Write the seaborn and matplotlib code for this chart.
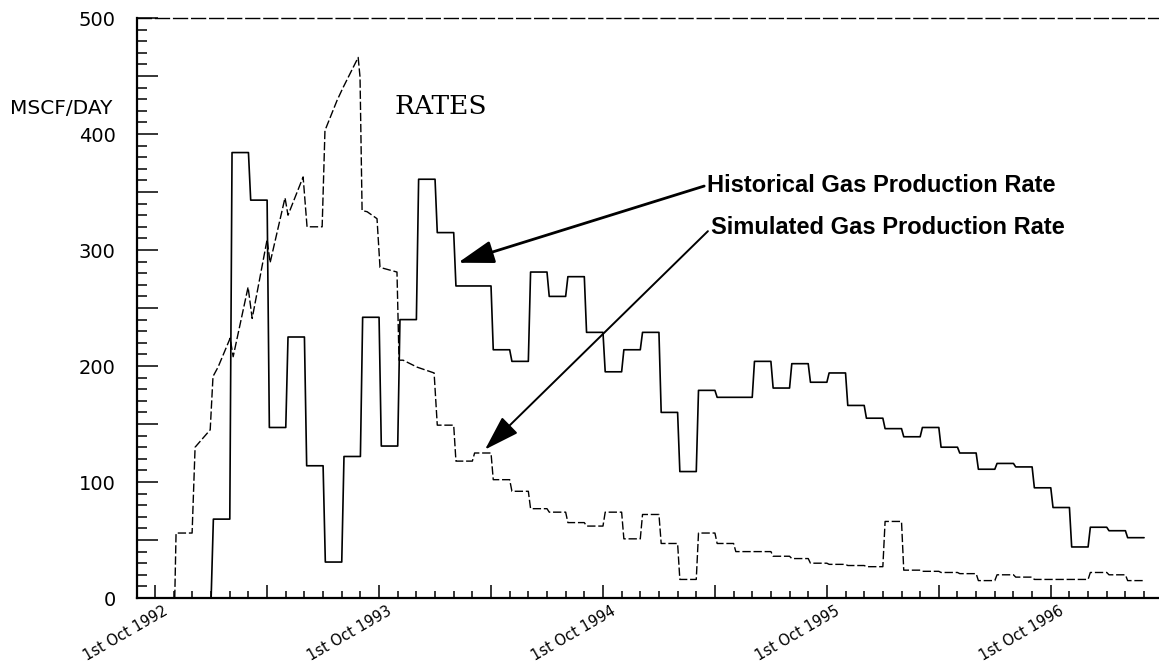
import numpy as np
import pandas as pd
import matplotlib
matplotlib.use("Agg")
import matplotlib.pyplot as plt
import matplotlib.transforms as mtransforms
from matplotlib.ticker import MultipleLocator, FuncFormatter
import seaborn as sns

## datos (meses desde 1 Oct 1992, MSCF/DAY)

hist_start = 3
hist_rate = [68, 384, 343, 147, 225, 114, 31, 122, 242, 131,
             240, 361, 315, 269, 269, 214, 204, 281, 260, 277,
             229, 195, 214, 229, 160, 109, 179, 173, 173, 204,
             181, 202, 186, 194, 166, 155, 146, 139, 147, 130,
             125, 111, 116, 113, 95, 78, 44, 61, 58, 52]

sim_early_month = [1.05, 1.12, 1.98, 2.14, 2.95, 3.1, 3.37, 4.02, 4.18, 4.98,
                   5.2, 6.0, 6.16, 6.96, 7.12, 7.93, 8.14, 8.95, 9.1, 9.75,
                   10.07, 10.88, 10.98, 11.09, 11.36, 11.89, 12.05, 12.96, 13.07, 13.29,
                   14.04, 14.95]
sim_early_rate = [0, 56, 56, 130, 145, 191, 199, 224, 208, 268,
                  241, 309, 289, 345, 330, 363, 320, 320, 403, 429,
                  440, 466, 449, 334, 333, 327, 285, 281, 205, 205,
                  199, 194]

sim_start = 15
sim_rate = [149, 118, 125, 102, 92, 77, 74, 65, 62, 74,
            51, 72, 47, 16, 56, 47, 40, 40, 36, 34,
            30, 29, 28, 27, 66, 24, 23, 22, 21, 15,
            20, 18, 16, 16, 16, 22, 20, 15]

label_months = [0, 12, 24, 36, 48]
label_text = ["1st Oct 1992", "1st Oct 1993", "1st Oct 1994", "1st Oct 1995", "1st Oct 1996"]
y_labels = [0, 100, 200, 300, 400, 500]


def escalones(first_month, values, ramp=0.12):
    t, v = [], []
    for i, val in enumerate(values):
        m = first_month + i
        t += [m + ramp, m + 1]
        v += [val, val]
    return t, v


t_h, v_h = escalones(hist_start, hist_rate)
df_hist = pd.DataFrame({"mes": [hist_start] + t_h, "rate": [0] + v_h})

t_s, v_s = escalones(sim_start, sim_rate)
df_sim = pd.DataFrame({"mes": sim_early_month + t_s, "rate": sim_early_rate + v_s})

## grafico

sns.set_style("white")
plt.rcParams["font.family"] = ["DejaVu Sans"]
plt.rcParams["text.color"] = "black"
plt.rcParams["xtick.color"] = "black"
plt.rcParams["ytick.color"] = "black"

W, H = 1159, 669
fig = plt.figure(figsize=(W / 100, H / 100), dpi=100)
ax = fig.add_axes([136.5 / W, 71 / H, 1 - 136.5 / W, (598 - 18) / H])

sns.lineplot(data=df_hist, x="mes", y="rate", ax=ax, color="black", lw=1.2,
             estimator=None, sort=False)
sns.lineplot(data=df_sim, x="mes", y="rate", ax=ax, color="black", lw=1.0,
             estimator=None, sort=False, linestyle=(0, (6, 2)))

ax.set_xlim(-1, 53.8)
ax.set_ylim(0, 500)
ax.set_xlabel("")
ax.set_ylabel("")

for s in ["left", "bottom"]:
    ax.spines[s].set_linewidth(1.6)
    ax.spines[s].set_color("black")
ax.spines["right"].set_visible(False)
ax.spines["top"].set_linestyle((0, (10, 3)))
ax.spines["top"].set_linewidth(1.0)
ax.spines["top"].set_color("black")

ax.xaxis.set_major_locator(MultipleLocator(6))
ax.xaxis.set_minor_locator(MultipleLocator(1))
lab_x = dict(zip(label_months, label_text))
ax.xaxis.set_major_formatter(FuncFormatter(lambda x, p: lab_x.get(int(round(x)), "")))

ax.yaxis.set_major_locator(MultipleLocator(50))
ax.yaxis.set_minor_locator(MultipleLocator(10))
ax.yaxis.set_major_formatter(FuncFormatter(lambda y, p: str(int(y)) if int(round(y)) in y_labels else ""))

ax.tick_params(axis="x", which="major", direction="in", length=9.5, width=1.1,
               color="black", labelcolor="black", labelsize=10.5, pad=4,
               bottom=True, top=False)
ax.tick_params(axis="x", which="minor", direction="in", length=5, width=1.1,
               color="black", bottom=True, top=False)
ax.tick_params(axis="y", which="major", direction="in", length=15, width=1.1,
               color="black", labelcolor="black", labelsize=14, pad=15,
               left=True, right=False)
ax.tick_params(axis="y", which="minor", direction="in", length=7, width=1.1,
               color="black", left=True, right=False)

shift = mtransforms.ScaledTranslation(8 / 100, 0, fig.dpi_scale_trans)
for lbl in ax.get_xticklabels():
    lbl.set_rotation(30)
    lbl.set_ha("right")
    lbl.set_va("top")
    lbl.set_rotation_mode("anchor")
    lbl.set_transform(lbl.get_transform() + shift)

fig.text(10 / W, 1 - 108 / H, "MSCF/DAY", ha="left", va="center", fontsize=14.5,
         color="black")
fig.text(395 / W, 1 - 107 / H, "RATES", ha="left", va="center", fontsize=19,
         family="DejaVu Serif", color="black")

fuente = dict(fontsize=17, fontweight="bold", family="Liberation Sans", color="black")
flecha = dict(arrowstyle="-|>,head_length=1.1,head_width=0.35", color="black",
              mutation_scale=20, shrinkA=0, shrinkB=0, relpos=(0, 0.5))
ax.annotate("Historical Gas Production Rate", xy=(16.23, 289), xytext=(29.6, 356),
            ha="left", va="center", arrowprops=dict(flecha, lw=2.0), **fuente)
ax.annotate("Simulated Gas Production Rate", xy=(17.68, 128), xytext=(29.8, 319),
            ha="left", va="center", arrowprops=dict(flecha, lw=1.4), **fuente)

fig.savefig("out.png", dpi=100, facecolor="white")
